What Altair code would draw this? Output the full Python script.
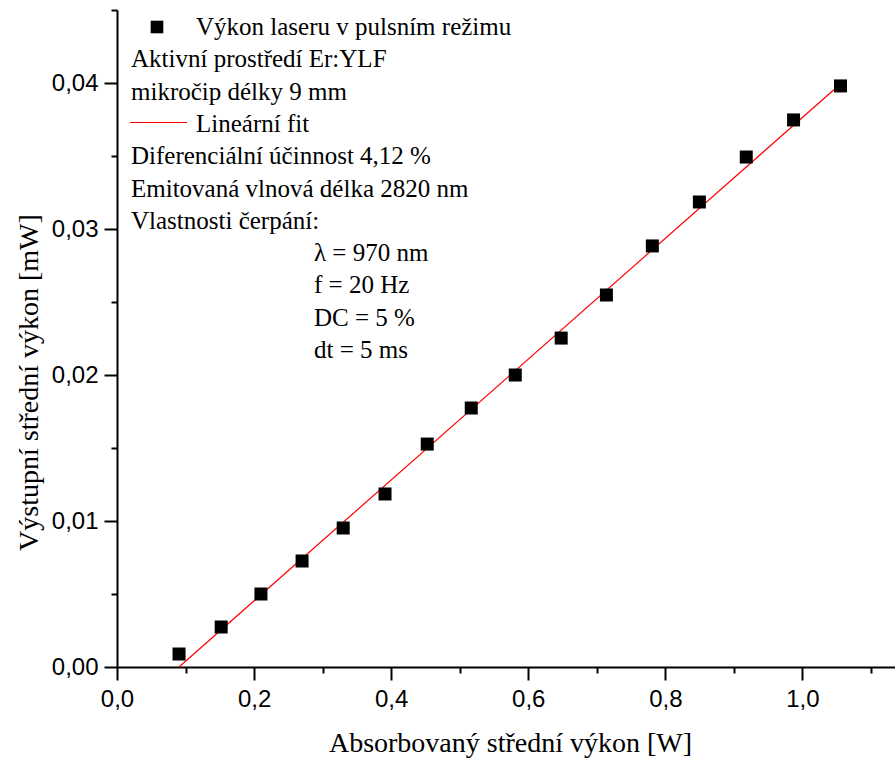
import altair as alt
import pandas as pd

# Measured data (absorbed power [W], output power [mW])
x_abs = [0.0905, 0.152, 0.210, 0.270, 0.330, 0.391, 0.4526, 0.5168,
         0.581, 0.648, 0.714, 0.781, 0.8496, 0.918, 0.987, 1.0555]
y_out = [0.00089, 0.00274, 0.0050, 0.00726, 0.00952, 0.01185, 0.01527, 0.01774,
         0.0200, 0.02253, 0.02548, 0.02884, 0.03185, 0.03493, 0.03747, 0.0398]

# Linear fit end points
fit_x = [0.0905, 1.057]
fit_y = [0.0, 0.0400]

# Axis tick values
x_ticks = [round(i * 0.1, 1) for i in range(12)]
y_ticks = [round(i * 0.005, 3) for i in range(10)]

# Legend / annotation text
legend_text = [
    "Výkon laseru v pulsním režimu",
    "Aktivní prostředí Er:YLF",
    "mikročip délky 9 mm",
    "Lineární fit",
    "Diferenciální účinnost 4,12 %",
    "Emitovaná vlnová délka 2820 nm",
    "Vlastnosti čerpání:",
    "λ = 970 nm",
    "f = 20 Hz",
    "DC = 5 %",
    "dt = 5 ms",
]
legend_kind = ["marker", "text", "text", "fit", "text", "text", "text",
               "param", "param", "param", "param"]

pts = pd.DataFrame({"x": x_abs, "y": y_out})
fit = pd.DataFrame({"x": fit_x, "y": fit_y})
leg = pd.DataFrame({"t": legend_text, "kind": legend_kind, "i": list(range(len(legend_text)))})

XW, YH = 778, 657
xscale = alt.Scale(domain=[0, 1.135], nice=False, zero=False)
yscale = alt.Scale(domain=[0, 0.045], nice=False, zero=False)

x_axis = alt.Axis(
    values=x_ticks,
    labelExpr="round(datum.value*10) % 2 == 0 ? replace(format(datum.value, '.1f'), '.', ',') : ''",
    tickSize={"condition": {"test": "round(datum.value*10) % 2 == 0", "value": 13}, "value": 6},
    tickWidth=2, tickColor="black", domainWidth=2, domainColor="black",
    labelFont="Liberation Sans", labelFontSize=24, labelColor="black",
    labelPadding=7, labelFlush=False, labelOverlap=False, grid=False,
    title="Absorbovaný střední výkon [W]", titleFont="Liberation Serif",
    titleFontSize=28, titleFontWeight="normal", titleColor="black",
    titleX=393, titleY=84, titleBaseline="alphabetic",
)
y_axis = alt.Axis(
    values=y_ticks,
    labelExpr="round(datum.value*1000) % 10 == 0 ? replace(format(datum.value, '.2f'), '.', ',') : ''",
    tickSize={"condition": {"test": "round(datum.value*1000) % 10 == 0", "value": 13}, "value": 6},
    tickWidth=2, tickColor="black", domainWidth=2, domainColor="black",
    labelFont="Liberation Sans", labelFontSize=24, labelColor="black",
    labelPadding=6, labelFlush=False, labelOverlap=False, grid=False,
    title="Výstupní střední výkon [mW]", titleFont="Liberation Serif",
    titleFontSize=28, titleFontWeight="normal", titleColor="black",
    titleX=-80, titleY=372, titleBaseline="alphabetic", titleAngle=270,
)

points = alt.Chart(pts).mark_square(size=169, color="black", filled=True, opacity=1).encode(
    x=alt.X("x:Q", scale=xscale, axis=x_axis),
    y=alt.Y("y:Q", scale=yscale, axis=y_axis),
)

line = alt.Chart(fit).mark_line(color="#ff0000", strokeWidth=1.2).encode(
    x=alt.X("x:Q", scale=xscale),
    y=alt.Y("y:Q", scale=yscale),
)

# Legend block (pixel positions inside the plot area)
texts = alt.Chart(leg).transform_calculate(
    px="datum.kind == 'marker' || datum.kind == 'fit' ? 79 : (datum.kind == 'param' ? 197 : 14)",
    py="17 + 32.3 * datum.i",
).mark_text(align="left", baseline="middle", font="Liberation Serif", fontSize=25, color="black").encode(
    x=alt.X("px:Q", scale=None, axis=None),
    y=alt.Y("py:Q", scale=None, axis=None),
    text="t:N",
)

leg_marker = alt.Chart(leg).transform_filter("datum.kind == 'marker'").mark_square(
    size=160, color="black", filled=True, opacity=1
).encode(x=alt.value(40), y=alt.value(17))

leg_line = alt.Chart(leg).transform_filter("datum.kind == 'fit'").mark_rule(
    color="#ff0000", strokeWidth=1.2
).encode(x=alt.value(13), x2=alt.value(70), y=alt.value(112.5))

chart = alt.layer(line, points, leg_line, leg_marker, texts).properties(
    width=XW, height=YH,
    autosize=alt.AutoSizeParams(type="none"),
    padding={"left": 117, "top": 10, "right": 0, "bottom": 91},
    background="white",
).configure_view(stroke=None)

chart.save("out.html", embed_options={"renderer": "svg", "actions": False})
